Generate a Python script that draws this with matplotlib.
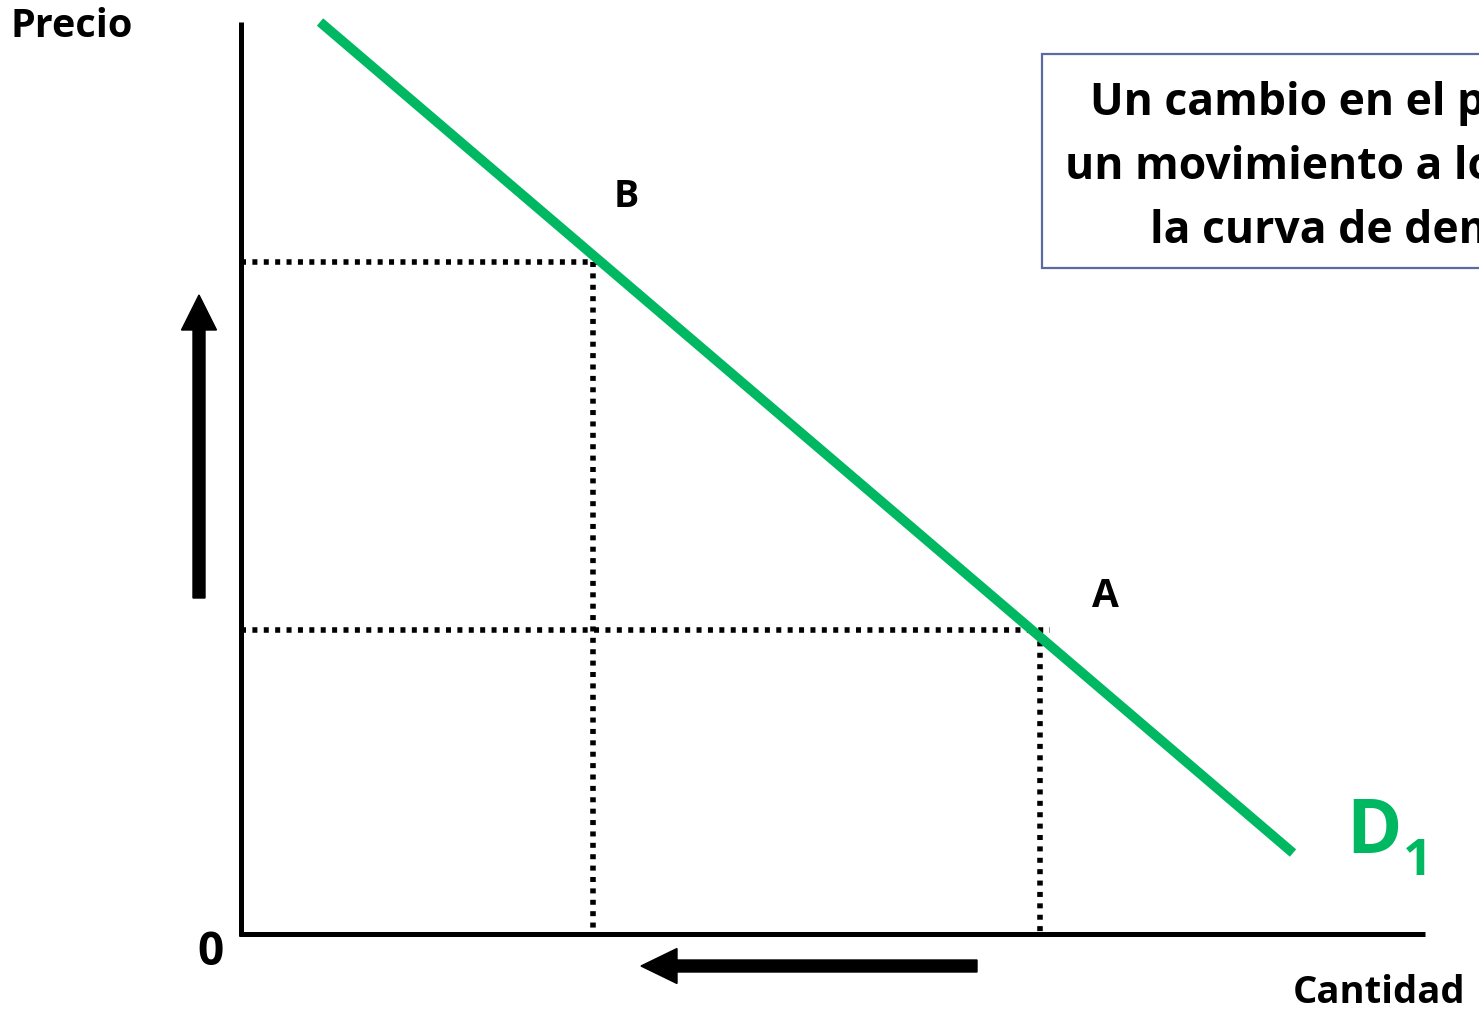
import matplotlib.pyplot as plt

# Demand curve D1 (quantity, price)
demand_q = [0.79, 10.52]
demand_p = [9.12, 0.81]

# Points on the curve
point_names = ['B', 'A']
point_q = [3.52, 7.99]
point_p = [6.72, 3.04]

# Axis lengths
q_max = 11.84
p_max = 9.12

# Arrows: price goes up, quantity goes down
price_arrow = [3.36, 6.39]     # from, to (price)
qty_arrow = [7.36, 4.00]       # from, to (quantity)

box_lines = ['Un cambio en el precio causa',
             'un movimiento a lo largo de',
             'la curva de demanda']

green = '#00B862'
font = 'Open Sans'

fig = plt.figure(figsize=(14.79, 10.16), dpi=100)
ax = fig.add_axes([0, 0, 1, 1])
ax.set_xlim(-2.41, 12.38)
ax.set_ylim(-0.82, 9.34)
ax.axis('off')

# axes of the diagram
ax.plot([0, 0], [-0.02, p_max], color='black', lw=3.6, solid_capstyle='butt')
ax.plot([-0.02, q_max], [0, 0], color='black', lw=3.6, solid_capstyle='butt')

# dotted guide lines for A and B
dots = (0, (0.9, 1.15))
for q, p in zip(point_q, point_p):
    ax.plot([0, q + 0.1], [p, p], color='black', lw=4.0, linestyle=dots)
    ax.plot([q, q], [p, 0], color='black', lw=4.0, linestyle=dots)

# demand curve
ax.plot(demand_q, demand_p, color=green, lw=7, solid_capstyle='butt')

# arrows
ax.arrow(-0.42, price_arrow[0], 0, price_arrow[1] - price_arrow[0], width=0.12,
         head_width=0.35, head_length=0.35, length_includes_head=True,
         color='black')
ax.arrow(qty_arrow[0], -0.32, qty_arrow[1] - qty_arrow[0], 0, width=0.12,
         head_width=0.35, head_length=0.36, length_includes_head=True,
         color='black')

# text box
box = plt.Rectangle((8.01, 6.66), 6.0, 2.14, facecolor='white',
                    edgecolor='#5B6AA3', lw=1.6)
ax.add_patch(box)
for (x, y), line in zip([(8.49, 8.19), (8.24, 7.55), (9.09, 6.91)], box_lines):
    ax.text(x, y, line, fontsize=32, fontweight='bold', family=font,
            ha='left', va='baseline')

# labels
ax.text(-2.31, 8.97, 'Precio', fontsize=28.5, fontweight='bold', family=font,
        ha='left', va='baseline')
ax.text(10.52, -0.69, 'Cantidad', fontsize=27.5, fontweight='bold', family=font,
        ha='left', va='baseline')
ax.text(-0.44, -0.31, '0', fontsize=33, fontweight='bold', family=font,
        ha='left', va='baseline')
ax.text(3.73, 7.27, point_names[0], fontsize=27, fontweight='bold', family=font,
        ha='left', va='baseline')
ax.text(8.51, 3.27, point_names[1], fontsize=28, fontweight='bold', family=font,
        ha='left', va='baseline')
ax.text(11.05, 0.81, 'D', fontsize=54, fontweight='bold', family=font,
        color=green, ha='left', va='baseline')
ax.text(11.62, 0.59, '1', fontsize=37, fontweight='bold', family=font,
        color=green, ha='left', va='baseline')

fig.savefig('out.png', dpi=100)
